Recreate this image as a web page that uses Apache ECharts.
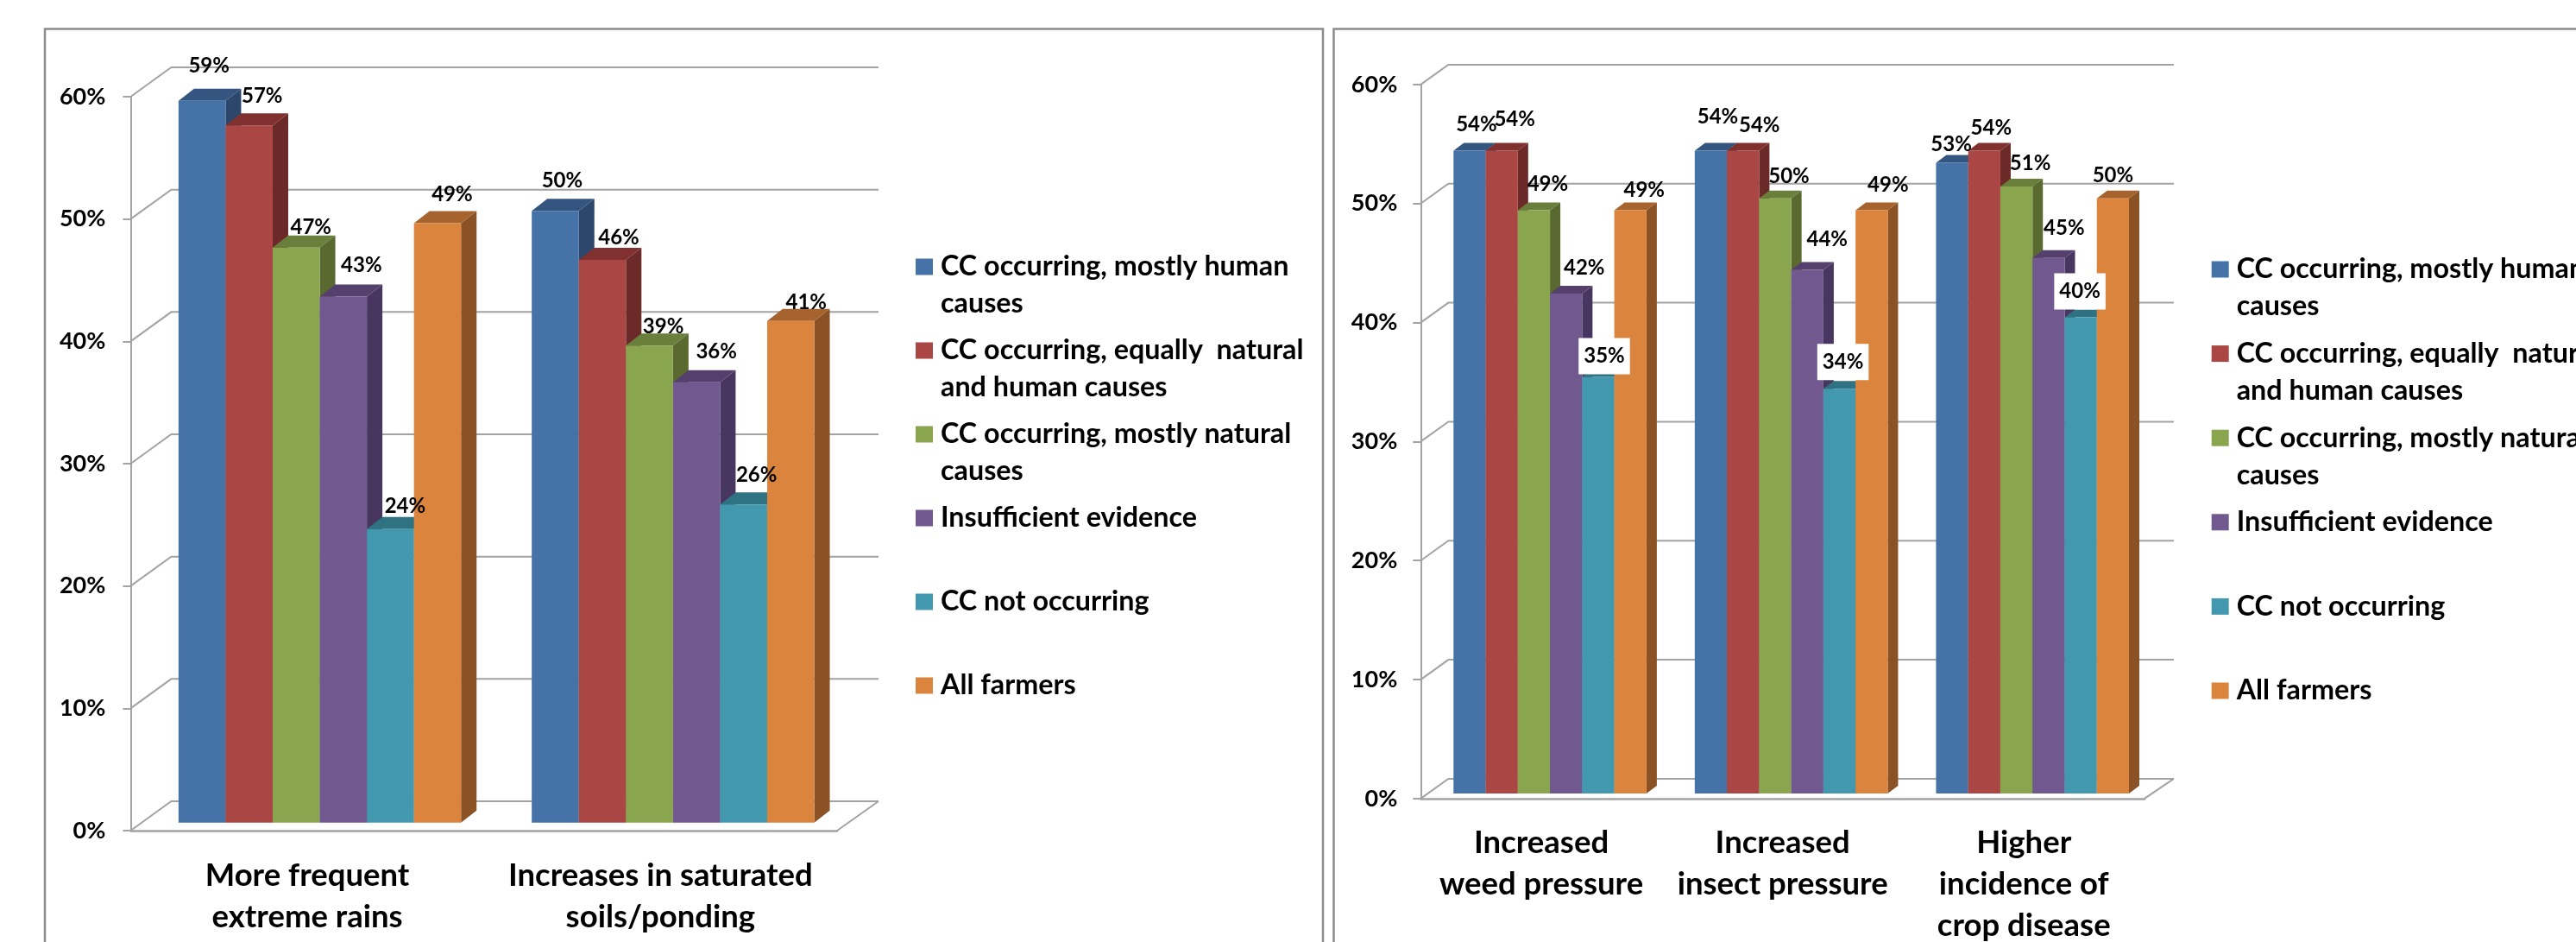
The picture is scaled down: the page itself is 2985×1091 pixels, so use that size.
<!DOCTYPE html>
<html>
<head>
<meta charset="utf-8">
<style>
  html, body { margin: 0; padding: 0; background: #fff; overflow: hidden; }
  #chart { width: 2985px; height: 1091px; }
</style>
<script src="https://cdn.jsdelivr.net/npm/echarts@6/dist/echarts.min.js"></script>
</head>
<body>
<div id="chart"></div>
<script>
// Farmers' observed climate impacts, split by belief about climate change (CC).
const seriesNames = [
  'CC occurring, mostly human\ncauses',
  'CC occurring, equally  natural\nand human causes',
  'CC occurring, mostly natural\ncauses',
  'Insufficient evidence',
  'CC not occurring',
  'All farmers'
];

// Wetness impacts
const wetCategories = ['More frequent\nextreme rains', 'Increases in saturated\nsoils/ponding'];
const wetHuman = [59, 50];
const wetEqual = [57, 46];
const wetNatural = [47, 39];
const wetInsufficient = [43, 36];
const wetNot = [24, 26];
const wetAll = [49, 41];

// Pest and disease impacts
const pestCategories = ['Increased\nweed pressure', 'Increased\ninsect pressure', 'Higher\nincidence of\ncrop disease'];
const pestHuman = [54, 54, 53];
const pestEqual = [54, 54, 54];
const pestNatural = [49, 50, 51];
const pestInsufficient = [42, 44, 45];
const pestNot = [35, 34, 40];
const pestAll = [49, 49, 50];

const valueTicks = [0, 10, 20, 30, 40, 50, 60];

// Face colours of each 3D column: front, top, side
const frontColors = ['#4572A7', '#AA4643', '#89A54E', '#71588F', '#4198AF', '#DB843D'];
const topColors = ['#33557F', '#80312F', '#6A7F3B', '#553F6D', '#2F7282', '#A6632E'];
const sideColors = ['#2C476B', '#6B2A28', '#59692F', '#47365F', '#27606F', '#8B5225'];

const FONT = 'Lato';
const GRID_GREY = '#A3A3A3';

// Pixel nudges of the value labels relative to the column's front-top centre: [x, y]
const wetLabelNudge = [
  [[8, -41], [15, -34], [17, -24], [21, -36], [17, -26], [17, -33]],
  [[8, -35], [19, -26], [16, -22], [23, -35], [15, -34], [18, -22]]
];
const pestLabelNudge = [
  [[8, -30], [15, -36], [16, -30], [21, -30], [7, -24], [16, -23]],
  [[8, -39], [19, -29], [16, -25], [23, -35], [4, -31], [19, -29]],
  [[-1, -21], [8, -26], [16, -27], [18, -34], [-1, -30], [0, -26]]
];
// Labels sitting on a white plate
const platedSeries = 4;

const panels = [
  {
    categories: wetCategories,
    values: [wetHuman, wetEqual, wetNatural, wetInsufficient, wetNot, wetAll],
    nudge: wetLabelNudge,
    grid: { left: 151.4, top: 112, width: 818.6, height: 850 },
    wall: [47, -34],
    wallEnd: 1018,
    barShift: [14.5, -9.3],
    barDepth: [18, -14],
    plated: false,
    labelMargins: [29, 28],
    legendLeft: 1061,
    legendTop: 244.5,
    legendGap: -32
  },
  {
    categories: pestCategories,
    values: [pestHuman, pestEqual, pestNatural, pestInsufficient, pestNot, pestAll],
    nudge: pestLabelNudge,
    grid: { left: 1646.3, top: 97.9, width: 838.7, height: 827 },
    wall: [32, -23],
    wallEnd: 2519,
    barShift: [10, -6],
    barDepth: [12, -9],
    plated: true,
    labelMargins: [27, 27],
    legendLeft: 2562.7,
    legendTop: 247.5,
    legendGap: -31.4
  }
];

const BAR_RATIO = 0.1333;

// Column drawn as three faces, its value label on top of everything
function columnRenderer(panel, seriesIdx) {
  return function (params, api) {
    const cat = api.value(0);
    const v = api.value(1);
    const base = api.coord([cat, 0]);
    const head = api.coord([cat, v]);
    const w = api.size([1, 0])[0] * BAR_RATIO;
    const x = base[0] - 3 * w + seriesIdx * w + panel.barShift[0];
    const y0 = base[1] + panel.barShift[1];
    const y1 = head[1] + panel.barShift[1];
    const dx = panel.barDepth[0];
    const dy = panel.barDepth[1];
    const nudge = panel.nudge[cat][seriesIdx];
    const plated = panel.plated && seriesIdx === platedSeries;
    return {
      type: 'group',
      children: [
        { type: 'polygon', shape: { points: [[x + w, y1], [x + w + dx, y1 + dy], [x + w + dx, y0 + dy], [x + w, y0]] }, style: { fill: sideColors[seriesIdx] } },
        { type: 'polygon', shape: { points: [[x, y1], [x + dx, y1 + dy], [x + w + dx, y1 + dy], [x + w, y1]] }, style: { fill: topColors[seriesIdx] } },
        { type: 'rect', shape: { x: x, y: y1, width: w, height: y0 - y1 }, style: { fill: frontColors[seriesIdx] } },
        {
          type: 'text',
          z2: 100,
          style: {
            text: v + '%',
            x: x + w / 2 + nudge[0],
            y: y1 + nudge[1],
            align: 'center',
            verticalAlign: 'middle',
            fontFamily: FONT,
            fontSize: 24,
            fontWeight: 700,
            fill: '#000',
            backgroundColor: plated ? '#fff' : 'transparent',
            padding: plated ? [9, 6] : 0
          }
        }
      ]
    };
  };
}

// Side wall, back wall and floor rules for each value tick
function wallRenderer(panel) {
  return function (params, api) {
    const v = api.value(1);
    const p = api.coord([0, v]);
    const left = params.coordSys.x;
    const right = left + params.coordSys.width;
    const back = [left + panel.wall[0], p[1] + panel.wall[1]];
    const lineStyle = { stroke: GRID_GREY, lineWidth: 2, fill: null };
    const children = [
      { type: 'polyline', shape: { points: [[left, p[1]], back, [panel.wallEnd, back[1]]] }, style: lineStyle }
    ];
    if (v === 0) {
      children.push({ type: 'line', shape: { x1: right, y1: p[1], x2: panel.wallEnd, y2: back[1] }, style: lineStyle });
    }
    return { type: 'group', children: children };
  };
}

const grids = [], xAxes = [], yAxes = [], series = [], legends = [];

panels.forEach(function (panel, i) {
  grids.push(Object.assign({ outerBoundsMode: 'none' }, panel.grid));
  xAxes.push({
    type: 'category',
    gridIndex: i,
    data: panel.categories,
    axisLine: { lineStyle: { color: GRID_GREY, width: 2.5 } },
    axisTick: { length: 12, lineStyle: { color: GRID_GREY, width: 2 } },
    axisLabel: {
      interval: 0,
      margin: panel.labelMargins[1],
      fontFamily: FONT,
      fontSize: 36.5,
      fontWeight: 700,
      lineHeight: 48,
      color: '#000'
    }
  });
  yAxes.push({
    type: 'value',
    gridIndex: i,
    min: 0,
    max: 60,
    interval: 10,
    splitLine: { show: false },
    axisLine: { show: true, lineStyle: { color: GRID_GREY, width: 2 } },
    axisTick: { show: true, length: 9, lineStyle: { color: GRID_GREY, width: 2 } },
    axisLabel: {
      margin: panel.labelMargins[0],
      formatter: '{value}%',
      fontFamily: FONT,
      fontSize: 27,
      fontWeight: 700,
      padding: [8, 0, 0, 0],
      color: '#000'
    }
  });
  series.push({
    type: 'custom',
    name: 'wall' + i,
    silent: true,
    z: 1,
    xAxisIndex: i,
    yAxisIndex: i,
    renderItem: wallRenderer(panel),
    encode: { x: 0, y: 1 },
    data: valueTicks.map(function (t) { return [0, t]; })
  });
  panel.values.forEach(function (vals, s) {
    series.push({
      type: 'custom',
      name: seriesNames[s],
      z: 2,
      xAxisIndex: i,
      yAxisIndex: i,
      itemStyle: { color: frontColors[s] },
      renderItem: columnRenderer(panel, s),
      encode: { x: 0, y: 1 },
      data: vals.map(function (val, c) { return [c, val]; })
    });
  });
  legends.push({
    orient: 'vertical',
    left: panel.legendLeft,
    top: panel.legendTop,
    padding: 0,
    data: seriesNames.map(function (n) { return { name: n, icon: 'rect' }; }),
    itemWidth: 20,
    itemHeight: 19,
    itemGap: panel.legendGap,
    selectedMode: false,
    // Padding lines keep the swatch level with the first line of text
    formatter: function (name) {
      return name.indexOf('\n') >= 0 ? '\n' + name : '\n' + name + '\n ';
    },
    textStyle: {
      fontFamily: FONT,
      fontSize: 32.3,
      fontWeight: 700,
      lineHeight: 43,
      color: '#000',
      padding: [0, 0, 0, 4]
    }
  });
});

const chart = echarts.init(document.getElementById('chart'), null, { renderer: 'canvas' });
chart.setOption({
  animation: false,
  backgroundColor: '#fff',
  grid: grids,
  xAxis: xAxes,
  yAxis: yAxes,
  legend: legends,
  series: series,
  graphic: [
    { type: 'polyline', silent: true, shape: { points: [[52, 1091], [52, 33.6], [1533, 33.6], [1533, 1091]] }, style: { stroke: '#8C8C8C', lineWidth: 2.5, fill: null } },
    { type: 'polyline', silent: true, shape: { points: [[1545.5, 1091], [1545.5, 33.6], [2985, 33.6]] }, style: { stroke: '#8C8C8C', lineWidth: 2.5, fill: null } }
  ]
});
</script>
</body>
</html>
